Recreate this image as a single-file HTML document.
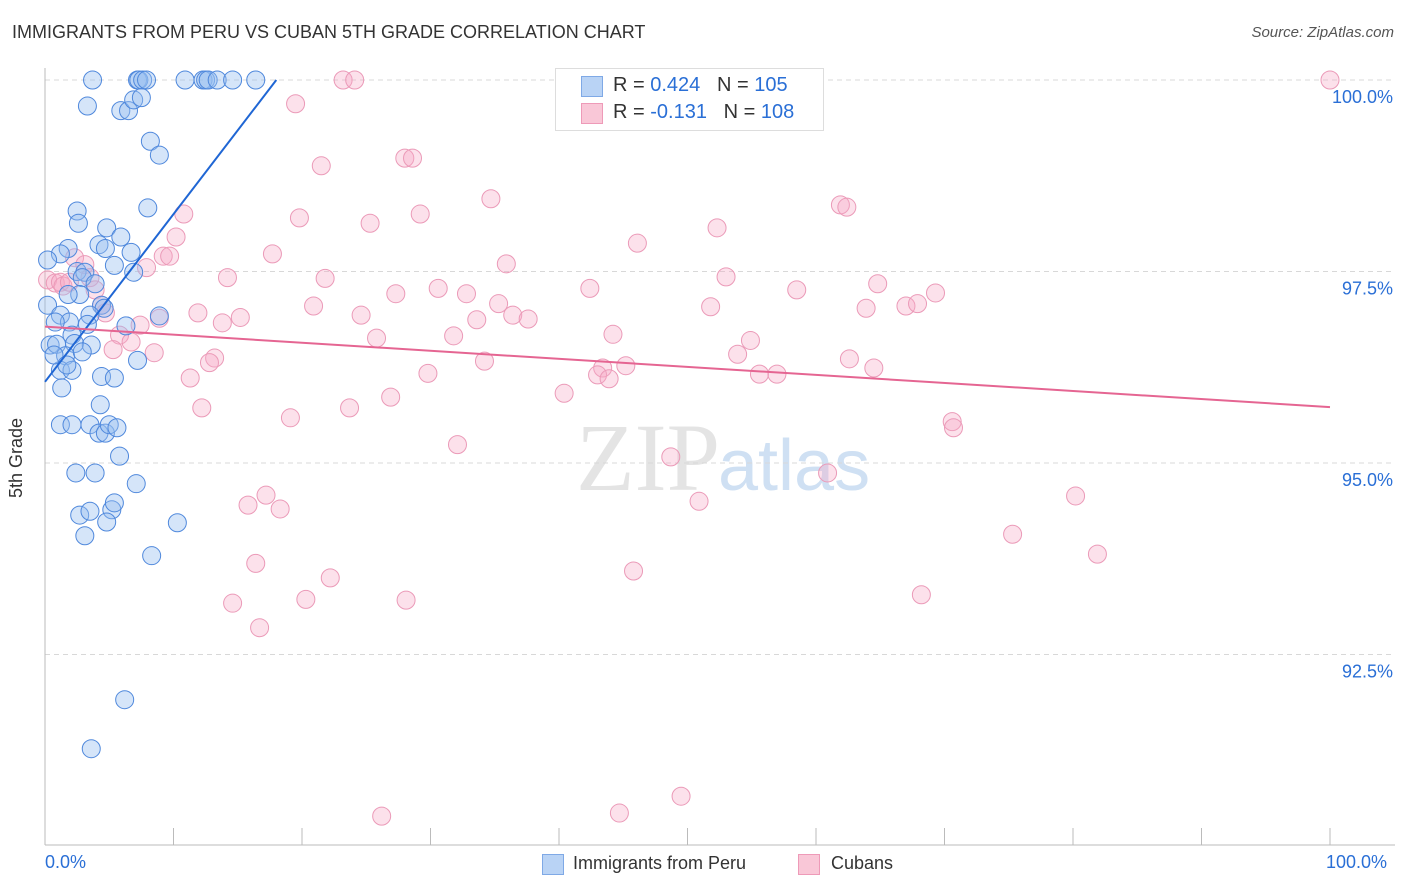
<!DOCTYPE html>
<html><head><meta charset="utf-8"><style>
body{margin:0;background:#fff;font-family:"Liberation Sans",sans-serif;}
#wrap{position:relative;width:1406px;height:892px;overflow:hidden;}
.t{position:absolute;white-space:nowrap;}
</style></head><body>
<div id="wrap">
<div class="t" style="left:12px;top:22px;font-size:18px;color:#333;">IMMIGRANTS FROM PERU VS CUBAN 5TH GRADE CORRELATION CHART</div>
<div class="t" style="right:12px;top:24px;font-size:15px;color:#555;font-style:italic;">Source: ZipAtlas.com</div>
<svg id="svg" width="1406" height="892" style="position:absolute;left:0;top:0">
<text x="720" y="490" text-anchor="end" font-family="Liberation Serif" font-size="96" fill="#e4e4e4">ZIP</text>
<text x="718" y="490" font-family="Liberation Sans" font-size="72" fill="#cfe0f3">atlas</text>
</svg>
<div class="t" style="left:6px;top:445px;font-size:18px;color:#333;transform:rotate(-90deg);transform-origin:0 0;top:498px;">5th Grade</div>
<div class="t" style="left:555px;top:68px;width:267px;height:61px;border:1px solid #ddd;background:#fff;"></div>
<div class="t" style="left:581px;top:76px;width:20px;height:19px;background:#b9d3f5;border:1px solid #7fa9e6;"></div>
<div class="t" style="left:581px;top:103px;width:20px;height:19px;background:#f9c7d7;border:1px solid #ee9ab8;"></div>
<div class="t" style="left:613px;top:74px;font-size:20px;color:#333;">R = <span style="color:#2a6fd6">0.424</span>&nbsp;&nbsp;&nbsp;N = <span style="color:#2a6fd6">105</span></div>
<div class="t" style="left:613px;top:101px;font-size:20px;color:#333;">R = <span style="color:#2a6fd6">-0.131</span>&nbsp;&nbsp;&nbsp;N = <span style="color:#2a6fd6">108</span></div>
<div class="t" style="left:45px;top:852px;font-size:18px;color:#2a6fd6;">0.0%</div>
<div class="t" style="left:1326px;top:852px;font-size:18px;color:#2a6fd6;">100.0%</div>
<div class="t" style="left:542px;top:854px;width:20px;height:19px;background:#b9d3f5;border:1px solid #7fa9e6;"></div>
<div class="t" style="left:573px;top:853px;font-size:18px;color:#333;">Immigrants from Peru</div>
<div class="t" style="left:798px;top:854px;width:20px;height:19px;background:#f9c7d7;border:1px solid #ee9ab8;"></div>
<div class="t" style="left:831px;top:853px;font-size:18px;color:#333;">Cubans</div>
</div>
<script>
const yTicks=[100,97.5,95,92.5];
const yTickLabels=["100.0%","97.5%","95.0%","92.5%"];
const xTicks=[0,10,20,30,40,50,60,70,80,90,100];
const peruX=[3.7,7.2,7.3,7.6,7.9,10.9,12.3,12.5,12.7,13.4,14.6,16.4,3.3,5.9,6.5,6.9,7.5,8.2,8.9,8.0,2.5,2.6,4.8,5.9,4.2,4.7,6.7,1.8,1.2,0.2,5.4,6.9,2.5,3.1,2.9,3.9,2.7,1.8,4.4,4.6,0.2,1.2,3.5,3.3,1.9,0.8,8.9,6.3,2.1,0.4,0.9,2.3,3.6,1.6,2.9,7.2,1.2,2.1,4.4,5.4,1.3,4.3,1.2,2.1,3.5,4.2,4.7,5.0,5.6,5.8,2.4,3.9,7.1,2.7,3.5,5.2,5.4,4.8,3.1,10.3,8.3,6.2,3.6,0.7,1.7];
const peruY=[100,100,100,100,100,100,100,100,100,100,100,100,99.66,99.6,99.6,99.74,99.77,99.2,99.02,98.33,98.29,98.13,98.07,97.95,97.85,97.8,97.75,97.8,97.73,97.65,97.58,97.49,97.5,97.49,97.42,97.34,97.2,97.2,97.06,97.02,97.06,96.93,96.93,96.81,96.84,96.84,96.92,96.79,96.67,96.54,96.55,96.56,96.54,96.4,96.45,96.34,96.21,96.21,96.13,96.11,95.98,95.76,95.5,95.5,95.5,95.39,95.39,95.5,95.46,95.09,94.87,94.87,94.73,94.32,94.37,94.39,94.48,94.23,94.05,94.22,93.79,91.91,91.27,96.41,96.28];
const cubaX=[100,23.2,24.1,19.5,21.5,28,28.6,34.7,10.8,19.8,25.3,29.2,10.2,9.2,9.7,17.7,46.1,52.3,61.9,62.4,7.9,14.2,21.8,35.9,53,42.4,30.6,32.8,27.3,58.5,64.8,69.3,35.3,20.9,11.9,15.2,13.8,24.6,36.4,37.6,33.6,51.8,63.9,67,67.9,44.2,31.8,25.8,5.8,7.4,6.7,8.5,5.3,13.2,12.8,34.2,29.8,43.4,45.2,43,43.9,54.9,53.9,62.6,64.5,55.6,56.96,11.3,40.4,26.9,12.2,23.7,19.1,70.6,70.7,32.1,48.7,60.9,17.2,15.8,18.3,50.9,80.2,75.3,81.9,16.4,45.8,22.2,20.3,14.6,28.1,68.2,16.7,49.5,26.2,44.7,0.2,0.8,1.2,1.4,1.9,2.3,3.1,3.5,3.9,4.4,4.7,8.9];
const cubaY=[100,100,100,99.69,98.88,98.98,98.98,98.45,98.25,98.2,98.13,98.25,97.95,97.7,97.7,97.73,97.87,98.07,98.37,98.34,97.55,97.42,97.41,97.6,97.43,97.28,97.28,97.21,97.21,97.26,97.34,97.22,97.08,97.05,96.96,96.9,96.83,96.93,96.93,96.88,96.87,97.04,97.02,97.05,97.08,96.68,96.66,96.63,96.67,96.8,96.58,96.44,96.48,96.37,96.31,96.33,96.17,96.24,96.27,96.15,96.1,96.6,96.42,96.36,96.24,96.16,96.16,96.11,95.91,95.86,95.72,95.72,95.59,95.54,95.46,95.24,95.08,94.87,94.58,94.45,94.4,94.5,94.57,94.07,93.81,93.69,93.59,93.5,93.22,93.17,93.21,93.28,92.85,90.65,90.39,90.43,97.39,97.35,97.36,97.31,97.36,97.68,97.59,97.42,97.26,97.06,96.96,96.89];
const peruTrend=[0,96.06,18,100];
const cubaTrend=[0,96.78,100,95.73];
const X=v=>45+v*12.85, Y=v=>80+(100-v)*76.6;
const svg=document.getElementById('svg'),NS='http://www.w3.org/2000/svg';
function mk(t,a){const e=document.createElementNS(NS,t);for(const k in a)e.setAttribute(k,a[k]);svg.appendChild(e);return e;}
yTicks.forEach((v,i)=>{
 const g=mk('line',{x1:45,x2:1395,y1:Y(v),y2:Y(v),stroke:'#d8d8d8','stroke-dasharray':'5,4'});
 
 
 const t=mk('text',{x:1393,y:Y(v)+23,'text-anchor':'end','font-size':18,fill:'#2a6fd6','font-family':'Liberation Sans'});
 t.textContent=yTickLabels[i];
 
 
});
const ax=mk('line',{x1:45,x2:45,y1:68,y2:845,stroke:'#bbb'});


const bx=mk('line',{x1:45,x2:1395,y1:845,y2:845,stroke:'#bbb'});


xTicks.forEach(v=>{const l=mk('line',{x1:X(v),x2:X(v),y1:828,y2:845,stroke:'#bbb'});
 
 });
cubaX.forEach((v,i)=>{const c=mk('circle',{cx:X(v),cy:Y(cubaY[i]),r:9,fill:'rgba(246,170,198,0.35)',stroke:'#eb9ab8','stroke-width':1});
 
 });
peruX.forEach((v,i)=>{const c=mk('circle',{cx:X(v),cy:Y(peruY[i]),r:9,fill:'rgba(150,190,240,0.4)',stroke:'#4f88dc','stroke-width':1});
 
 });
const pl=mk('line',{x1:X(peruTrend[0]),y1:Y(peruTrend[1]),x2:X(peruTrend[2]),y2:Y(peruTrend[3]),stroke:'#1f66d4','stroke-width':2});


const cl=mk('line',{x1:X(cubaTrend[0]),y1:Y(cubaTrend[1]),x2:X(cubaTrend[2]),y2:Y(cubaTrend[3]),stroke:'#e56592','stroke-width':2});


</script>
</body></html>
